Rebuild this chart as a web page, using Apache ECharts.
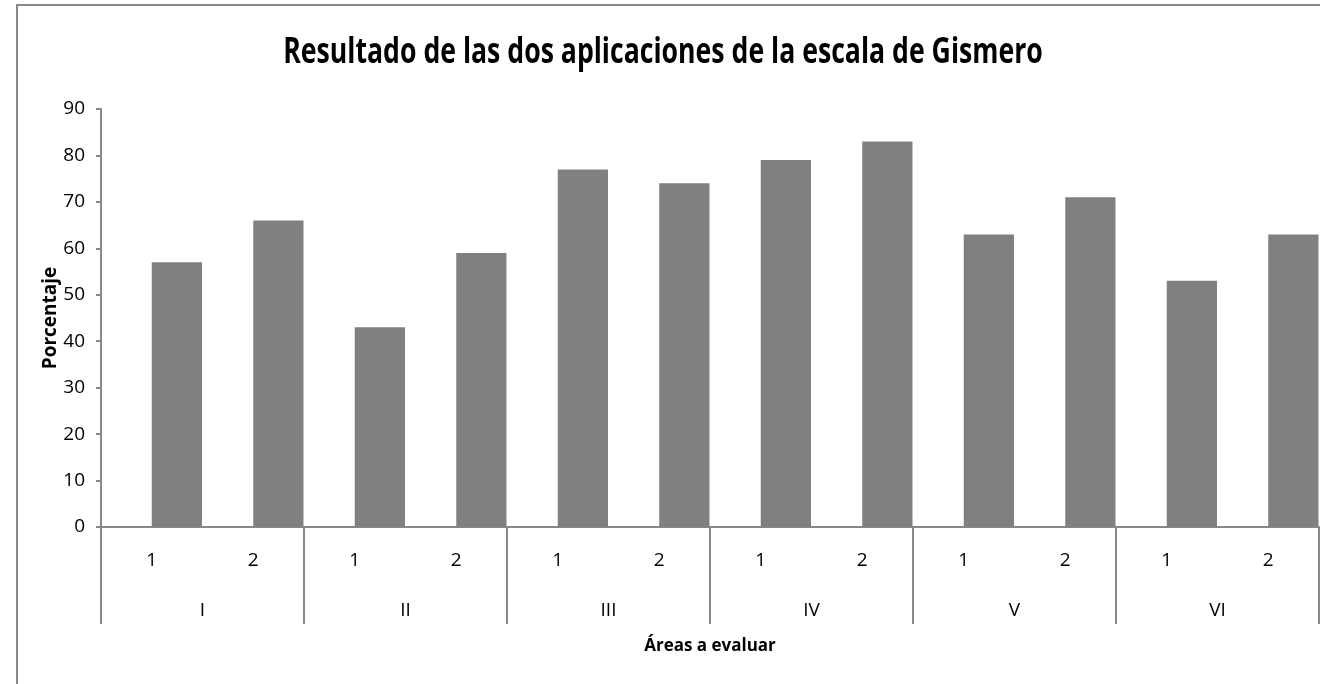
<!DOCTYPE html>
<html><head><meta charset="utf-8">
<script src="https://cdn.jsdelivr.net/npm/echarts@6/dist/echarts.min.js"></script>
<style>html,body{margin:0;padding:0;background:#fff}#c{width:1329px;height:684px}</style>
</head><body><div id="c"></div>
<script>
var applications = ['1','2','1','2','1','2','1','2','1','2','1','2'];
var areas = ['I','II','III','IV','V','VI'];
var values = [57,66,43,59,77,74,79,83,63,71,53,63];
var emptySlot = [null,null,null,null,null,null,null,null,null,null,null,null];
var yTicks = [0,10,20,30,40,50,60,70,80,90];

var FONT = "'Open Sans',sans-serif";
var chart = echarts.init(document.getElementById('c'));
chart.setOption({
  animation: false,
  backgroundColor: '#fff',
  grid: {left: 101, right: 10, top: 109, bottom: 157},
  xAxis: [{
    type: 'category', data: applications, position: 'bottom',
    axisLine: {show: true, lineStyle: {color: '#888', width: 2}},
    axisTick: {show: false},
    axisLabel: {margin: 24, fontFamily: FONT, fontSize: 19, color: '#000'},
    name: 'Áreas a evaluar', nameLocation: 'middle', nameGap: 111,
    nameMoveOverlap: false,
    nameTextStyle: {fontFamily: FONT, fontSize: 17, fontWeight: 'bold', color: '#000'}
  }, {
    type: 'category', data: areas, position: 'bottom', offset: 0,
    axisLine: {show: false},
    axisTick: {show: true, length: 97, lineStyle: {color: '#888', width: 2}},
    axisLabel: {margin: 74, fontFamily: FONT, fontSize: 19, color: '#000'}
  }],
  yAxis: {
    type: 'value', min: 0, max: 90, interval: 10,
    axisLine: {show: true, lineStyle: {color: '#888', width: 2}},
    axisTick: {show: true, length: 5, lineStyle: {color: '#888', width: 2}},
    splitLine: {show: false},
    axisLabel: {margin: 16, fontFamily: FONT, fontSize: 19, color: '#000',
      formatter: function(v){ return yTicks.indexOf(v) >= 0 ? String(v) : ''; }},
    name: 'Porcentaje', nameLocation: 'middle', nameGap: 41, nameRotate: 90,
    nameMoveOverlap: false,
    nameTextStyle: {fontFamily: FONT, fontSize: 19, fontWeight: 'bold', color: '#000'}
  },
  series: [{
    type: 'bar', data: emptySlot, xAxisIndex: 0, barWidth: '49.5%', barGap: '0%',
    itemStyle: {color: '#808080'}, silent: true
  }, {
    type: 'bar', data: values, xAxisIndex: 0, barWidth: '49.5%', barGap: '0%',
    itemStyle: {color: '#808080'}
  }],
  graphic: [{
    type: 'polyline', silent: true,
    shape: {points: [[17, 690], [17, 5], [1320, 5]]},
    style: {stroke: '#888', lineWidth: 2, fill: null}
  }, {
    type: 'text', silent: true, x: 663, y: 53, scaleX: 0.74,
    style: {
      text: 'Resultado de las dos aplicaciones de la escala de Gismero',
      fontFamily: FONT, fontSize: 36, fontWeight: 'bold', fill: '#000',
      textAlign: 'center', textVerticalAlign: 'middle'
    }
  }]
});
</script></body></html>
